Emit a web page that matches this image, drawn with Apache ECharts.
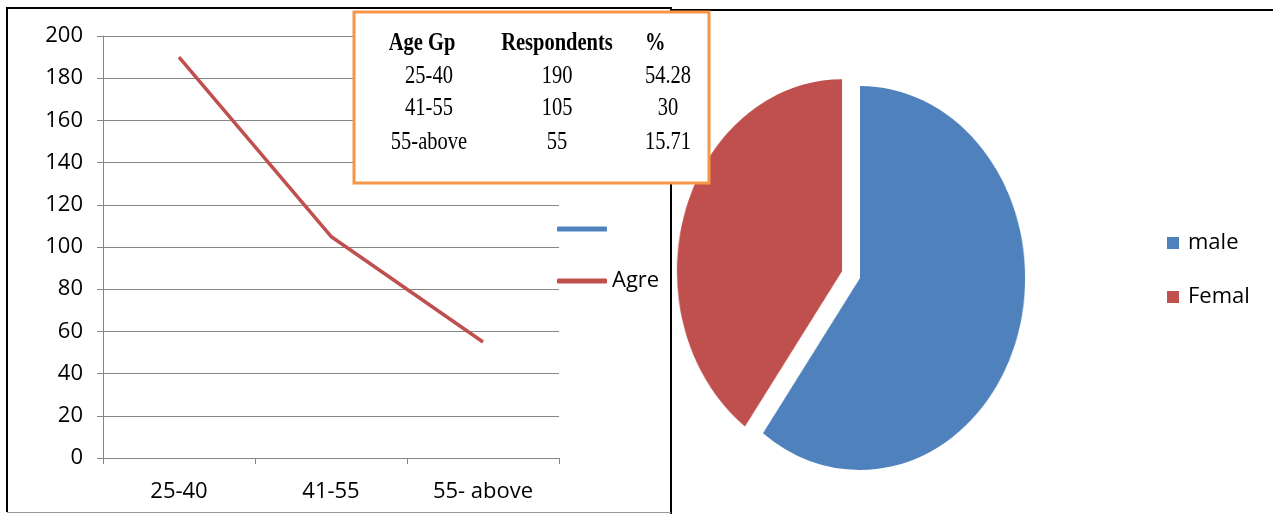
<!DOCTYPE html>
<html>
<head>
<meta charset="utf-8">
<script src="https://cdn.jsdelivr.net/npm/echarts@6/dist/echarts.min.js"></script>
<style>
  html, body { margin: 0; padding: 0; background: #fff; }
  #pie { position: absolute; left: 630px; top: 48px; width: 460px; height: 460px; transform: scaleX(0.86); transform-origin: 50% 50%; z-index: 1; }
  #main { position: absolute; left: 0; top: 0; width: 1273px; height: 514px; z-index: 2; }
</style>
</head>
<body>
<div id="pie"></div>
<div id="main"></div>
<script>
// ---- data ----
var categories = ['25-40', '41-55', '55- above'];
var ageValues = [190, 105, 55];
var yTicks = [0, 200, 20]; // min, max, interval
var tableHeader = ['Age Gp', 'Respondents', '%'];
var tableAge = ['25-40', '41-55', '55-above'];
var tableResp = ['190', '105', '55'];
var tablePct = ['54.28', '30', '15.71'];
var pieNames = ['male', 'Femal'];
var pieValues = [60, 40];
var pieColors = ['#4F81BD', '#C0504D'];

var FONT = '"Open Sans", sans-serif';
var SERIF = '"Liberation Serif", "Times New Roman", serif';

// ---- pie chart (own instance, stretched to an ellipse) ----
var pie = echarts.init(document.getElementById('pie'));
pie.setOption({
  animation: false,
  series: [{
    type: 'pie',
    center: ['50%', '50%'],
    radius: 192,
    startAngle: 90,
    clockwise: true,
    selectedMode: 'single',
    selectedOffset: 22,
    label: { show: false },
    labelLine: { show: false },
    emphasis: { disabled: true },
    data: pieNames.map(function (n, i) {
      return { name: n, value: pieValues[i], selected: i === 1, itemStyle: { color: pieColors[i] } };
    })
  }]
});

// ---- main chart ----
var graphics = [];
// panel borders
graphics.push({ type: 'line', z: 90, shape: { x1: 6, y1: 8, x2: 672, y2: 8 }, style: { stroke: '#000', lineWidth: 2 } });
graphics.push({ type: 'line', z: 90, shape: { x1: 7, y1: 8, x2: 7, y2: 512 }, style: { stroke: '#000', lineWidth: 2 } });
graphics.push({ type: 'line', z: 90, shape: { x1: 671, y1: 8, x2: 671, y2: 514 }, style: { stroke: '#000', lineWidth: 2 } });
graphics.push({ type: 'line', z: 90, shape: { x1: 7, y1: 512.5, x2: 671, y2: 512.5 }, style: { stroke: '#999', lineWidth: 1 } });
graphics.push({ type: 'line', z: 90, shape: { x1: 671, y1: 10, x2: 1273, y2: 10 }, style: { stroke: '#000', lineWidth: 2 } });
// table box
graphics.push({ type: 'rect', z: 100, shape: { x: 354, y: 12, width: 355, height: 171 }, style: { fill: '#fff', stroke: '#F79646', lineWidth: 3 } });

var colX = [424, 557, 656];
var rowY = [44, 76, 108, 142];
function tText(str, x, y, bold, align) {
  return {
    type: 'text', z: 101, x: x, y: y, scaleX: 0.82,
    style: { text: str, fontFamily: SERIF, fontSize: 25, fontWeight: bold ? 'bold' : 'normal', fill: '#000', align: align || 'center', verticalAlign: 'middle' }
  };
}
graphics.push(tText(tableHeader[0], 422, rowY[0], true));
graphics.push(tText(tableHeader[1], colX[1], rowY[0], true));
graphics.push(tText(tableHeader[2], 645, rowY[0], true, 'left'));
for (var r = 0; r < tableAge.length; r++) {
  graphics.push(tText(tableAge[r], 429, rowY[r + 1], false));
  graphics.push(tText(tableResp[r], colX[1], rowY[r + 1], false));
  graphics.push(tText(tablePct[r], 668, rowY[r + 1], false));
}
// pie legend
for (var i = 0; i < pieNames.length; i++) {
  var cy = 243 + i * 54;
  graphics.push({ type: 'rect', z: 101, shape: { x: 1167, y: cy - 6, width: 12, height: 12 }, style: { fill: pieColors[i] } });
  graphics.push({ type: 'text', z: 101, x: 1188, y: cy, style: { text: pieNames[i], fontFamily: FONT, fontSize: 22, fill: '#000', align: 'left', verticalAlign: 'middle' } });
}

var chart = echarts.init(document.getElementById('main'));
chart.setOption({
  animation: false,
  grid: { left: 103, top: 36, width: 456, height: 422, containLabel: false },
  legend: {
    orient: 'vertical',
    left: 557,
    top: 217,
    padding: 0,
    itemWidth: 50,
    itemHeight: 5,
    itemGap: 28,
    icon: 'roundRect',
    selectedMode: false,
    textStyle: { fontFamily: FONT, fontSize: 22, color: '#000', lineHeight: 24 },
    data: [' ', 'Agre']
  },
  xAxis: {
    type: 'category',
    data: categories,
    boundaryGap: true,
    axisLine: { lineStyle: { color: '#868686', width: 1 } },
    axisTick: { show: true, length: 6, alignWithLabel: false, lineStyle: { color: '#868686' } },
    axisLabel: { fontFamily: FONT, fontSize: 22, color: '#000', margin: 23 },
    splitLine: { show: false }
  },
  yAxis: {
    type: 'value',
    min: yTicks[0], max: yTicks[1], interval: yTicks[2],
    axisLine: { show: true, lineStyle: { color: '#868686', width: 1 } },
    axisTick: { show: true, length: 6, lineStyle: { color: '#868686' } },
    axisLabel: { fontFamily: FONT, fontSize: 22, color: '#000', margin: 20 },
    splitLine: { show: true, lineStyle: { color: '#868686', width: 1 } }
  },
  series: [
    { name: ' ', type: 'line', data: [], color: '#4F81BD', lineStyle: { color: '#4F81BD' }, itemStyle: { color: '#4F81BD' } },
    { name: 'Agre', type: 'line', data: ageValues, symbol: 'none', color: '#C0504D', lineStyle: { color: '#C0504D', width: 3.5 }, itemStyle: { color: '#C0504D' } }
  ],
  graphic: graphics
});
</script>
</body>
</html>
